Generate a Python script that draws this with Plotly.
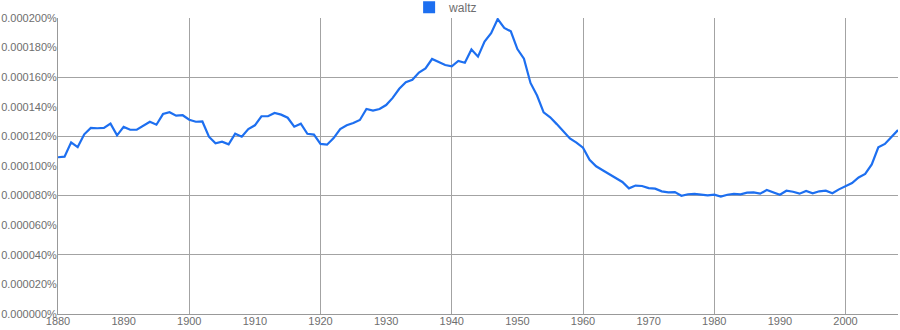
import plotly.graph_objects as go

# Years and frequency of "waltz" (values in millionths of a percent)
years = list(range(1880, 2009))
waltz_millionths_pct = [
    105.9, 106.3, 116.0, 112.8, 121.4, 125.7, 125.5, 125.7, 128.6, 120.7,
    126.4, 124.5, 124.5, 127.2, 129.9, 127.9, 135.1, 136.3, 134.0, 134.3,
    131.3, 129.9, 130.1, 119.8, 115.3, 116.4, 114.6, 121.8, 119.8, 125.0,
    127.5, 133.6, 133.6, 135.8, 134.7, 132.6, 126.6, 128.6, 121.8, 121.2,
    114.9, 114.4, 118.9, 125.0, 127.5, 129.1, 131.1, 138.5, 137.4, 138.5,
    141.2, 146.0, 152.2, 156.6, 158.2, 163.1, 165.9, 172.3, 170.3, 168.2,
    167.4, 171.0, 169.8, 178.7, 173.9, 184.0, 189.8, 199.3, 193.3, 191.0,
    179.0, 172.5, 156.1, 147.6, 136.2, 132.9, 128.3, 123.2, 118.6, 115.8,
    112.4, 104.2, 99.8, 97.1, 94.4, 91.7, 89.2, 84.9, 86.8, 86.5,
    85.1, 84.7, 82.9, 82.2, 82.4, 79.9, 80.9, 81.1, 80.9, 80.2,
    80.6, 79.3, 80.6, 81.1, 80.9, 82.0, 82.2, 81.3, 83.8, 82.0,
    80.6, 83.3, 82.6, 81.3, 83.1, 81.6, 82.9, 83.3, 81.6, 84.2,
    86.5, 88.5, 92.3, 94.6, 101.1, 112.6, 114.9, 119.8, 124.3,
]
series_name = "waltz"
waltz_pct = [v * 1e-6 for v in waltz_millionths_pct]

LINE_COLOR = "#1d6ff0"
GRID = "#a3a3a3"
AXIS = "#999999"
TEXT = "#6e6e6e"
FONT = "Liberation Sans, Arial, sans-serif"

fig = go.Figure()

# gridline carrier (overlay axes with coarser grid)
fig.add_trace(go.Scatter(x=years, y=waltz_pct, xaxis="x2", yaxis="y2",
                         mode="lines", line=dict(color="rgba(0,0,0,0)", width=0),
                         hoverinfo="skip", showlegend=False))

fig.add_trace(go.Scatter(x=years, y=waltz_pct, mode="lines", name=series_name,
                         line=dict(color=LINE_COLOR, width=2.2), showlegend=False))

# legend entry with square swatch
fig.add_trace(go.Scatter(x=[None], y=[None], mode="markers", name=series_name,
                         marker=dict(symbol="square", size=12, color=LINE_COLOR)))

fig.update_layout(
    width=900, height=330,
    margin=dict(l=58, r=2, t=18, b=16, autoexpand=False),
    paper_bgcolor="white", plot_bgcolor="white",
    font=dict(family=FONT, size=11, color=TEXT),
    showlegend=True,
    legend=dict(orientation="h", x=0.418, xref="paper", y=1.085, yref="paper",
                xanchor="left", yanchor="top", font=dict(size=12, color=TEXT),
                bgcolor="rgba(0,0,0,0)", borderwidth=0, itemclick=False),
    xaxis=dict(range=[1880, 2008], tickmode="linear", tick0=1880, dtick=10,
               showgrid=False, zeroline=False, showline=True, linecolor=AXIS,
               linewidth=1, ticks="", ticklabelstandoff=-3,
               tickfont=dict(size=11, color=TEXT)),
    yaxis=dict(range=[0, 0.0002], tickmode="linear", tick0=0, dtick=0.00002,
               tickformat=".6f", ticksuffix="%", showgrid=False, zeroline=False,
               showline=True, linecolor=AXIS, linewidth=1, ticks="",
               ticklabelstandoff=-2, tickfont=dict(size=11, color=TEXT)),
    xaxis2=dict(range=[1880, 2008], overlaying="x", tickmode="linear", tick0=1880,
                dtick=20, showgrid=True, gridcolor=GRID, gridwidth=1,
                showticklabels=False, zeroline=False, showline=False, ticks=""),
    yaxis2=dict(range=[0, 0.0002], overlaying="y", tickmode="linear", tick0=0,
                dtick=0.00004, showgrid=True, gridcolor=GRID, gridwidth=1,
                showticklabels=False, zeroline=False, showline=False, ticks=""),
)

fig.write_html("out.html")
